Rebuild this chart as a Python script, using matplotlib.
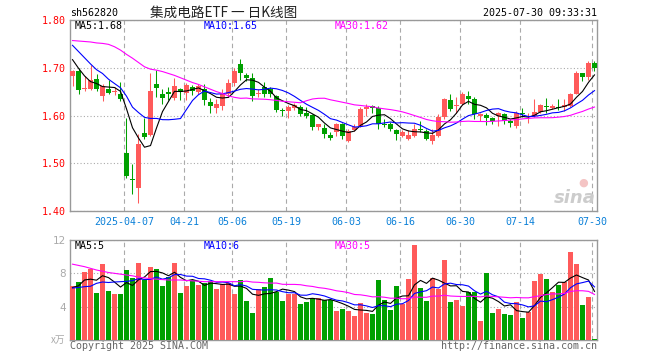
import numpy as np
import pandas as pd
import matplotlib
matplotlib.use('Agg')
import matplotlib.pyplot as plt

# Daily K-line data (index 0 = 2025-03-24, last = 2025-07-30)
open_ = [1.682, 1.693, 1.655, 1.656, 1.676, 1.641, 1.656, 1.649, 1.644, 1.521,
         1.466, 1.448, 1.563, 1.560, 1.667, 1.646, 1.649, 1.636, 1.656, 1.647,
         1.660, 1.650, 1.655, 1.629, 1.615, 1.620, 1.644, 1.668, 1.707, 1.685,
         1.679, 1.644, 1.660, 1.656, 1.641, 1.610, 1.610, 1.615, 1.617, 1.606,
         1.601, 1.576, 1.573, 1.560, 1.565, 1.582, 1.546, 1.569, 1.578, 1.613,
         1.619, 1.615, 1.582, 1.582, 1.569, 1.558, 1.551, 1.558, 1.572, 1.568,
         1.546, 1.558, 1.596, 1.632, 1.619, 1.625, 1.641, 1.634, 1.599, 1.601,
         1.594, 1.599, 1.603, 1.589, 1.578, 1.606, 1.597, 1.599, 1.608, 1.620,
         1.616, 1.618, 1.617, 1.620, 1.646, 1.688, 1.681, 1.710]
high = [1.695, 1.699, 1.682, 1.706, 1.687, 1.667, 1.674, 1.660, 1.670, 1.595,
        1.498, 1.562, 1.594, 1.689, 1.696, 1.656, 1.660, 1.679, 1.657, 1.668,
        1.664, 1.665, 1.667, 1.637, 1.634, 1.655, 1.676, 1.700, 1.719, 1.688,
        1.690, 1.655, 1.671, 1.660, 1.643, 1.615, 1.622, 1.627, 1.622, 1.618,
        1.603, 1.583, 1.582, 1.565, 1.585, 1.585, 1.572, 1.583, 1.617, 1.624,
        1.622, 1.620, 1.592, 1.587, 1.571, 1.569, 1.569, 1.582, 1.589, 1.572,
        1.572, 1.603, 1.636, 1.646, 1.639, 1.650, 1.651, 1.638, 1.606, 1.606,
        1.596, 1.608, 1.606, 1.592, 1.610, 1.615, 1.606, 1.634, 1.625, 1.637,
        1.624, 1.634, 1.634, 1.648, 1.693, 1.690, 1.714, 1.714]
low = [1.661, 1.646, 1.651, 1.654, 1.652, 1.630, 1.644, 1.642, 1.630, 1.470,
       1.435, 1.417, 1.550, 1.557, 1.639, 1.625, 1.633, 1.633, 1.632, 1.632,
       1.643, 1.645, 1.622, 1.606, 1.606, 1.611, 1.638, 1.662, 1.674, 1.672,
       1.631, 1.638, 1.638, 1.638, 1.608, 1.599, 1.594, 1.611, 1.599, 1.594,
       1.569, 1.569, 1.553, 1.549, 1.558, 1.551, 1.544, 1.568, 1.576, 1.599,
       1.606, 1.572, 1.576, 1.568, 1.549, 1.556, 1.549, 1.554, 1.565, 1.549,
       1.540, 1.554, 1.592, 1.610, 1.606, 1.622, 1.624, 1.592, 1.589, 1.580,
       1.583, 1.578, 1.583, 1.575, 1.574, 1.596, 1.585, 1.597, 1.606, 1.606,
       1.613, 1.611, 1.610, 1.618, 1.644, 1.672, 1.674, 1.694]
close = [1.694, 1.653, 1.657, 1.675, 1.656, 1.662, 1.648, 1.652, 1.635, 1.473,
         1.464, 1.540, 1.556, 1.652, 1.657, 1.636, 1.646, 1.662, 1.650, 1.663,
         1.652, 1.662, 1.632, 1.620, 1.625, 1.644, 1.669, 1.694, 1.688, 1.679,
         1.640, 1.646, 1.644, 1.644, 1.611, 1.609, 1.617, 1.622, 1.604, 1.599,
         1.575, 1.582, 1.561, 1.553, 1.582, 1.558, 1.568, 1.576, 1.613, 1.617,
         1.616, 1.582, 1.580, 1.572, 1.561, 1.565, 1.560, 1.572, 1.570, 1.551,
         1.560, 1.597, 1.634, 1.613, 1.621, 1.646, 1.634, 1.603, 1.603, 1.594,
         1.589, 1.606, 1.589, 1.585, 1.606, 1.604, 1.599, 1.608, 1.622, 1.617,
         1.620, 1.615, 1.622, 1.646, 1.688, 1.681, 1.710, 1.700]
# volume in 万
volume = [6.48, 7.0, 8.2, 8.52, 5.68, 9.16, 5.88, 5.52, 5.52, 8.4,
          7.4, 9.28, 7.2, 8.76, 8.52, 6.48, 7.6, 9.28, 5.68, 6.48,
          7.2, 6.6, 6.8, 7.08, 6.12, 6.72, 6.8, 5.52, 7.2, 4.72,
          3.24, 6.12, 6.4, 7.48, 5.8, 4.72, 5.52, 5.52, 4.32, 4.6,
          5.04, 5.04, 4.8, 4.8, 3.48, 3.72, 3.48, 2.88, 4.44, 3.24,
          3.12, 7.2, 4.8, 3.6, 6.48, 4.32, 7.32, 11.4, 6.24, 4.68,
          7.48, 6.12, 9.6, 4.56, 4.8, 4.08, 5.76, 5.76, 2.28, 8.04,
          3.24, 3.72, 3.12, 3.0, 4.56, 2.64, 3.36, 7.08, 7.92, 7.32,
          5.76, 6.6, 6.96, 10.56, 9.12, 4.2, 5.16, 0.12]

# moving-average values at the start of the window (history before the first candle)
ma5_lead = [1.717, 1.699, 1.683, 1.671]
ma10_lead = [1.747, 1.734, 1.721, 1.708, 1.696, 1.688, 1.676, 1.667, 1.658]
ma30_lead = [1.757, 1.756, 1.755, 1.754, 1.752, 1.751, 1.749, 1.744, 1.737, 1.728,
             1.720, 1.711, 1.702, 1.697, 1.695, 1.692, 1.688, 1.684, 1.679, 1.674,
             1.669, 1.665, 1.660, 1.655, 1.650, 1.646, 1.641, 1.638, 1.636]
vma5_lead = [6.3, 6.5, 7.2, 7.3]
vma10_lead = [6.24, 6.3, 6.4, 6.45, 6.8, 6.96, 6.9, 6.96, 7.0]
vma30_lead = [9.1, 8.95, 8.8, 8.6, 8.4, 8.25, 8.1, 8.0, 7.9, 7.8,
              7.7, 7.55, 7.45, 7.36, 7.3, 7.25, 7.2, 7.2, 7.2, 7.15,
              7.1, 7.05, 7.0, 7.0, 7.0, 7.0, 7.0, 7.0, 7.0]

tick_idx = [9, 19, 27, 36, 46, 55, 65, 75, 87]
tick_labels = ['2025-04-07', '04-21', '05-06', '05-19', '06-03',
               '06-16', '06-30', '07-14', '07-30']


def moving_avg(values, n, lead):
    ma = pd.Series(values).rolling(n).mean().to_numpy()
    ma[:n - 1] = lead
    return ma


RED = '#ff5a5a'
GREEN = '#00a000'
GRAY = '#999999'
MONO = 'DejaVu Sans Mono'
CJK = ['Noto Sans CJK SC', 'DejaVu Sans']

o = np.array(open_)
c = np.array(close)
h = np.array(high)
l = np.array(low)
v = np.array(volume)
x = np.arange(len(c))
colors = np.where(c >= o, RED, GREEN)

W, H = 660, 360
fig = plt.figure(figsize=(W / 100, H / 100), dpi=100)
axp = fig.add_axes([70 / W, 1 - 211 / H, 527 / W, 191 / H])
axv = fig.add_axes([70 / W, 1 - 340 / H, 527 / W, 100 / H])

# price panel
axp.vlines(x, l, h, colors=colors, linewidth=0.75, zorder=3)
body = np.maximum(np.abs(c - o), 0.0022)
axp.bar(x, body, bottom=np.minimum(o, c), width=0.83, color=colors,
        linewidth=0, zorder=3)
axp.plot(x, moving_avg(close, 5, ma5_lead), color='black', lw=0.8, zorder=4)
axp.plot(x, moving_avg(close, 10, ma10_lead), color='#0000ff', lw=0.8, zorder=4)
axp.plot(x, moving_avg(close, 30, ma30_lead), color='#ff00ff', lw=0.8, zorder=4)
axp.set_ylim(1.40, 1.80)
axp.set_yticks([1.40, 1.50, 1.60, 1.70, 1.80])
axp.set_yticklabels(['1.40', '1.50', '1.60', '1.70', '1.80'])

# volume panel
axv.bar(x, v, width=0.83, color=colors, linewidth=0, zorder=3)
axv.plot(x, moving_avg(volume, 5, vma5_lead), color='black', lw=0.8, zorder=4)
axv.plot(x, moving_avg(volume, 10, vma10_lead), color='#0000ff', lw=0.8, zorder=4)
axv.plot(x, moving_avg(volume, 30, vma30_lead), color='#ff00ff', lw=0.8, zorder=4)
axv.set_ylim(0, 12)
axv.set_yticks([4, 8, 12])
axv.set_yticklabels(['4', '8', '12'])

for ax in (axp, axv):
    ax.set_xlim(-0.4167, 87.417)
    ax.set_xticks(np.array(tick_idx) - 0.42)
    ax.yaxis.grid(True, linestyle=(0, (1, 2)), color='#aaaaaa', lw=0.8)
    ax.xaxis.grid(True, linestyle=(0, (4, 3)), color='#aaaaaa', lw=0.8)
    ax.set_axisbelow(True)
    for s in ax.spines.values():
        s.set_color(GRAY)
        s.set_linewidth(1.0)
    ax.tick_params(length=0)

axp.set_xticklabels(tick_labels, fontfamily=MONO, fontsize=7.2, color='#0b80d8')
axp.tick_params(axis='x', pad=4)
axp.tick_params(axis='y', pad=3, labelcolor='#ff0000', labelsize=7.2)
for t in axp.get_yticklabels():
    t.set_fontfamily(MONO)
axv.set_xticklabels([])
axv.tick_params(axis='y', pad=3, labelcolor='#aaaaaa', labelsize=7.5)


def px(xp, yp):
    return xp / W, 1 - yp / H


# header
fig.text(*px(70, 12.7), 'sh562820', ha='left', va='center', fontfamily=MONO,
         fontsize=7.2, color='black')
fig.text(*px(223.5, 12.5), '集成电路ETF 一 日K线图', ha='center', va='center',
         family=CJK, fontsize=9.8, color='#222222')
fig.text(*px(597, 12.7), '2025-07-30 09:33:31', ha='right', va='center',
         fontfamily=MONO, fontsize=7.2, color='black')

# MA legends
fig.text(*px(75, 26), 'MA5:1.68', ha='left', va='center', fontfamily=MONO,
         fontsize=7.2, color='black')
fig.text(*px(204, 26), 'MA10:1.65', ha='left', va='center', fontfamily=MONO,
         fontsize=7.2, color='#0000ff')
fig.text(*px(335, 26), 'MA30:1.62', ha='left', va='center', fontfamily=MONO,
         fontsize=7.2, color='#ff00ff')
fig.text(*px(75, 246), 'MA5:5', ha='left', va='center', fontfamily=MONO,
         fontsize=7.2, color='black')
fig.text(*px(204, 246), 'MA10:6', ha='left', va='center', fontfamily=MONO,
         fontsize=7.2, color='#0000ff')
fig.text(*px(335, 246), 'MA30:5', ha='left', va='center', fontfamily=MONO,
         fontsize=7.2, color='#ff00ff')

# watermark
fig.text(*px(596, 198), 'sina', ha='right', va='center', fontsize=13,
         fontweight='bold', fontstyle='italic', color='#cccccc')
fig.text(*px(583, 183), '●', ha='center', va='center', fontsize=8,
         color='#f4c4c4')

# footer
fig.text(*px(65, 340), 'x万', ha='right', va='center', family=CJK,
         fontsize=7, color='#aaaaaa')
fig.text(*px(70, 346), 'Copyright 2025 SINA.COM', ha='left', va='center',
         fontfamily=MONO, fontsize=7.2, color='#666666')
fig.text(*px(597, 346), 'http://finance.sina.com.cn', ha='right', va='center',
         fontfamily=MONO, fontsize=7.2, color='#666666')

fig.savefig('out.png', dpi=100)
